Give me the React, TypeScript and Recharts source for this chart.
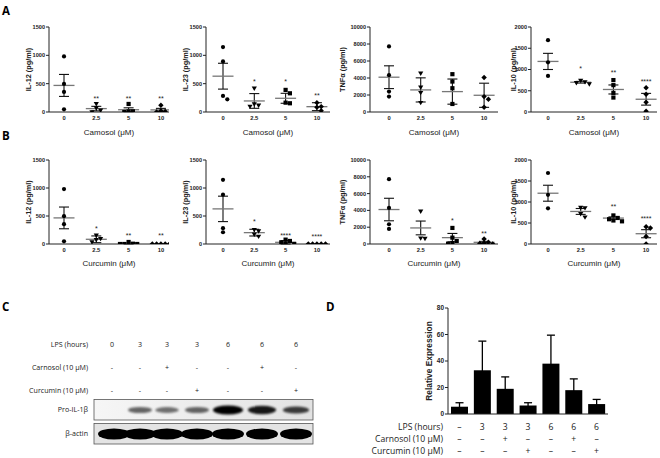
import React from 'react';
import { ScatterChart, Scatter, XAxis, YAxis, ErrorBar, BarChart, Bar } from 'recharts';

// ---------- DATA ----------
const doseLabels = ['0', '2.5', '5', '10'];
const groupShapes = ['circle', 'triangle', 'square', 'diamond'];

// Panel A: Carnosol
const camIL12Points = [[980, 496, 354, 47], [145, 70, 30, 0], [142, 12, 12, 0], [118, 20, 10, 0]];
const camIL12Mean = [469, 60, 40, 37];
const camIL12Sem = [194, 40, 34, 27];
const camIL12Sig = ['', '**', '**', '**'];
const camIL12SigY = [0, 271, 265, 260];

const camIL23Points = [[1146, 892, 283, 224], [420, 140, 120, 100], [390, 330, 165, 154], [165, 95, 83, 24]];
const camIL23Mean = [632, 195, 242, 94];
const camIL23Sem = [228, 130, 88, 70];
const camIL23Sig = ['', '*', '*', '**'];
const camIL23SigY = [0, 567, 567, 319];

const camTNFPoints = [[7717, 4331, 2400, 1811], [4567, 2913, 2283, 1102], [4449, 3583, 2795, 945], [4055, 1811, 1496, 551]];
const camTNFMean = [4094, 2598, 2400, 1968];
const camTNFSem = [1340, 1420, 1480, 1420];
const camTNFSig = ['', '', '', ''];
const camTNFSigY = [0, 0, 0, 0];

const camIL10Points = [[1690, 1170, 850], [740, 710, 690, 660], [751, 632, 450, 340], [569, 419, 230, 16]];
const camIL10Mean = [1190, 700, 530, 300];
const camIL10Sem = [190, 20, 106, 138];
const camIL10Sig = ['', '*', '**', '****'];
const camIL10SigY = [0, 1051, 972, 751];

// Panel B: Curcumin
const curIL12Points = [[980, 496, 354, 47], [155, 96, 78, 36], [0, 0, 0, 5, 36], [0, 0, 0, 0, 0]];
const curIL12Mean = [466, 84, 8, 0];
const curIL12Sem = [194, 60, 7, 0];
const curIL12Sig = ['', '*', '**', '**'];
const curIL12SigY = [0, 305, 173, 173];

const curIL23Points = [[1146, 880, 283, 210], [257, 233, 173, 137], [78, 54, 30, 6, 0], [0, 0, 0, 0, 0]];
const curIL23Mean = [627, 203, 30, 0];
const curIL23Sem = [227, 60, 30, 0];
const curIL23Sig = ['', '*', '****', '****'];
const curIL23SigY = [0, 424, 185, 155];

const curTNFPoints = [[7717, 4300, 2350, 1793], [3904, 700, 650], [1912, 757, 358, 120, 40], [600, 200, 120, 60, 0]];
const curTNFMean = [4104, 1912, 757, 200];
const curTNFSem = [1340, 820, 500, 110];
const curTNFSig = ['', '', '*', '**'];
const curTNFSigY = [0, 0, 3028, 1434];

const curIL10Points = [[1690, 1170, 850], [870, 860, 720, 640], [680, 620, 590, 560, 540], [410, 380, 180, 0]];
const curIL10Mean = [1209, 775, 617, 245];
const curIL10Sem = [190, 70, 28, 96];
const curIL10Sig = ['', '', '**', '****'];
const curIL10SigY = [0, 0, 933, 632];

const ticks1500 = [0, 500, 1000, 1500];
const ticks10000 = [0, 2000, 4000, 6000, 8000, 10000];
const ticks2000 = [0, 500, 1000, 1500, 2000];

// Panel C: western blot
const blotLps = ['0', '3', '3', '3', '6', '6', '6'];
const blotCarnosol = ['-', '-', '+', '-', '-', '+', '-'];
const blotCurcumin = ['-', '-', '-', '+', '-', '-', '+'];
const proIL1bIntensity = [0, 0.42, 0.36, 0.42, 1, 0.82, 0.62];
const actinIntensity = [1, 1, 1, 1, 1, 1, 1];

// Panel D: bar chart
const dLps = ['\u2013', '3', '3', '3', '6', '6', '6'];
const dCarnosol = ['\u2013', '\u2013', '+', '\u2013', '\u2013', '+', '\u2013'];
const dCurcumin = ['\u2013', '\u2013', '\u2013', '+', '\u2013', '\u2013', '+'];
const relExpression = [5.5, 33, 19, 6.5, 38, 18, 7.5];
const relExpressionSem = [3, 22, 9, 2, 21.5, 8.5, 3.5];
const dTicks = [0, 20, 40, 60, 80];

// ---------- LAYOUT ----------
const cols = [
  { left: 49, tick0: 64, sp: 32.3, right: 169, ylOff: 21 },
  { left: 206, tick0: 223, sp: 31.3, right: 330, ylOff: 21 },
  { left: 370, tick0: 389, sp: 31.7, right: 498, ylOff: 27.5 },
  { left: 531, tick0: 548, sp: 32.7, right: 657, ylOff: 18 },
];
const rows = [
  { top: 27, plotH: 85, xh: 23 },
  { top: 160, plotH: 84, xh: 22 },
];
const lanesX = [112, 140, 167, 197, 228, 262, 296];
const ARIAL = '"Liberation Sans", Arial, sans-serif';
const CAL = '"Open Sans", "Noto Sans", sans-serif';

function swarm(vals: number[], g: number, yMax: number, plotH: number, sp: number) {
  const step = 4.3;
  const minD = 4;
  const placed: { dx: number; py: number }[] = [];
  const out: { x: number; y: number }[] = [];
  const order = vals.map((_, i) => i).sort((a, b) => vals[b] - vals[a]);
  for (const i of order) {
    const py = (vals[i] / yMax) * plotH;
    let dx = 0;
    for (let t = 0; t < 30; t++) {
      const k = Math.ceil(t / 2) * (t % 2 === 1 ? 1 : -1);
      const cand = t === 0 ? 0 : k * step;
      const ok = placed.every((p) => Math.abs(p.py - py) >= minD || Math.abs(p.dx - cand) >= minD);
      if (ok) {
        dx = cand;
        break;
      }
    }
    placed.push({ dx, py });
    out.push({ x: g + dx / sp, y: vals[i] });
  }
  return out;
}

function Marker({ kind, cx, cy }: { kind: string; cx: number; cy: number }) {
  const r = 2.1;
  if (kind === 'circle') return <circle cx={cx} cy={cy} r={r} fill="#000" />;
  if (kind === 'square') return <rect x={cx - r} y={cy - r} width={2 * r} height={2 * r} fill="#000" />;
  if (kind === 'triangle')
    return <path d={`M${cx - 2.6},${cy - 1.7}L${cx + 2.6},${cy - 1.7}L${cx},${cy + 2.7}Z`} fill="#000" />;
  return <path d={`M${cx},${cy - 2.7}L${cx + 2.7},${cy}L${cx},${cy + 2.7}L${cx - 2.7},${cy}Z`} fill="#000" />;
}

type PanelProps = {
  col: number;
  row: number;
  yMax: number;
  yTicks: number[];
  yLabel: string;
  xTitle: string;
  points: number[][];
  means: number[];
  sems: number[];
  sig: string[];
  sigY: number[];
};

function ScatterPanel(p: PanelProps) {
  const c = cols[p.col];
  const r = rows[p.row];
  const YW = 50;
  const MT = 6;
  const MB = 5;
  const plotW = c.right - c.left;
  const width = YW + plotW + 2;
  const height = MT + r.plotH + r.xh + MB;
  const domain = [(c.left - c.tick0) / c.sp, (c.right - c.tick0) / c.sp];
  const meanData = p.means.map((m, i) => ({ x: i, y: m, err: p.sems[i] }));
  const sigData = p.sig
    .map((s, i) => ({ x: i, y: p.sigY[i], label: s }))
    .filter((d) => d.label !== '');
  return (
    <div style={{ position: 'absolute', left: c.left - YW, top: r.top - MT }}>
      <ScatterChart width={width} height={height} margin={{ top: MT, right: 2, bottom: MB, left: 0 }}>
        <XAxis
          type="number"
          dataKey="x"
          domain={domain}
          ticks={[0, 1, 2, 3]}
          interval={0}
          allowDataOverflow
          tickFormatter={(v: number) => doseLabels[v]}
          tickLine={false}
          tickSize={3}
          tickMargin={1}
          height={r.xh}
          axisLine={{ stroke: '#222', strokeWidth: 1 }}
          tick={{ fontSize: 5.8, fontWeight: 'bold', fill: '#222' }}
          label={{ value: p.xTitle, position: 'insideBottom', offset: 0, style: { fontSize: 8, fill: '#222' } }}
        />
        <YAxis
          type="number"
          dataKey="y"
          domain={[0, p.yMax]}
          ticks={p.yTicks}
          interval={0}
          allowDataOverflow
          width={YW}
          tickSize={3}
          tickMargin={1}
          axisLine={{ stroke: '#222', strokeWidth: 1 }}
          tickLine={{ stroke: '#222', strokeWidth: 1 }}
          tick={{ fontSize: 5.6, fontWeight: 'bold', fill: '#222' }}
          label={{
            value: p.yLabel,
            angle: -90,
            position: 'insideLeft',
            offset: YW - c.ylOff,
            style: { textAnchor: 'middle', fontSize: 7.3, fontWeight: 'bold', fill: '#222' },
          }}
        />
        <Scatter
          data={meanData}
          isAnimationActive={false}
          shape={(s: any) => (
            <line x1={s.cx - 10.5} x2={s.cx + 10.5} y1={s.cy} y2={s.cy} stroke="#777" strokeWidth={1.3} />
          )}
        >
          <ErrorBar dataKey="err" width={5} stroke="#111" strokeWidth={1.1} direction="y" />
        </Scatter>
        {p.points.map((vals, g) => (
          <Scatter
            key={g}
            data={swarm(vals, g, p.yMax, r.plotH, c.sp)}
            isAnimationActive={false}
            shape={(s: any) => <Marker kind={groupShapes[g]} cx={s.cx} cy={s.cy} />}
          />
        ))}
        <Scatter
          data={sigData}
          isAnimationActive={false}
          shape={(s: any) => (
            <text x={s.cx} y={s.cy + 4} textAnchor="middle" fontSize={7} fill="#222">
              {s.payload.label}
            </text>
          )}
        />
      </ScatterChart>
    </div>
  );
}

const DTick = (props: any) => {
  const { x, y, payload } = props;
  const i = payload.value as number;
  const st = { fontSize: 8.6, fontFamily: CAL, fill: '#222' } as any;
  return (
    <g>
      <text x={x} y={y + 16} textAnchor="middle" style={st}>{dLps[i]}</text>
      <text x={x} y={y + 28} textAnchor="middle" style={st}>{dCarnosol[i]}</text>
      <text x={x} y={y + 40} textAnchor="middle" style={st}>{dCurcumin[i]}</text>
    </g>
  );
};

function PanelD() {
  const data = relExpression.map((v, i) => ({ k: i, v, e: relExpressionSem[i] }));
  return (
    <div style={{ position: 'absolute', left: 448 - 40, top: 308 - 6 }}>
      <BarChart width={202} height={156} data={data} margin={{ top: 6, right: 2, bottom: 0, left: 0 }}>
        <XAxis
          dataKey="k"
          interval={0}
          tickLine={false}
          tickSize={0}
          tickMargin={0}
          height={44}
          axisLine={{ stroke: '#222', strokeWidth: 1 }}
          tick={<DTick />}
        />
        <YAxis
          domain={[0, 80]}
          ticks={dTicks}
          interval={0}
          width={40}
          tickSize={3}
          tickMargin={1}
          axisLine={{ stroke: '#222', strokeWidth: 1 }}
          tickLine={{ stroke: '#222', strokeWidth: 1 }}
          tick={{ fontSize: 6.5, fontWeight: 'bold', fill: '#222' }}
          label={{
            value: 'Relative Expression',
            angle: -90,
            position: 'insideLeft',
            offset: 21,
            style: { textAnchor: 'middle', fontSize: 8.4, fontWeight: 'bold', fill: '#222' },
          }}
        />
        <Bar dataKey="v" fill="#000" barSize={17} isAnimationActive={false}>
          <ErrorBar dataKey="e" width={4} stroke="#000" strokeWidth={1.3} direction="y" />
        </Bar>
      </BarChart>
    </div>
  );
}

function Overlay() {
  const txt = { fontFamily: CAL, fontSize: 7.1, fill: '#222' } as any;
  const dtxt = { fontFamily: CAL, fontSize: 8.6, fill: '#222' } as any;
  const letter = { fontFamily: CAL, fontSize: 11.5, fontWeight: 'bold', fill: '#000' } as any;
  return (
    <svg width={660} height={458} style={{ position: 'absolute', left: 0, top: 0 }}>
      <defs>
        <filter id="blur1" x="-30%" y="-60%" width="160%" height="220%">
          <feGaussianBlur stdDeviation="1.1" />
        </filter>
        <filter id="blur2" x="-30%" y="-60%" width="160%" height="220%">
          <feGaussianBlur stdDeviation="0.7" />
        </filter>
        <linearGradient id="bg1" x1="0" x2="1" y1="0" y2="0">
          <stop offset="0" stopColor="#f6f6f6" />
          <stop offset="1" stopColor="#e2e2e2" />
        </linearGradient>
      </defs>
      <text x={2} y={15} style={letter}>A</text>
      <text x={2} y={140} style={letter}>B</text>
      <text x={2} y={311} style={letter}>C</text>
      <text x={326} y={311} style={letter}>D</text>

      {/* Panel C */}
      <text x={88} y={346.5} textAnchor="end" style={txt}>LPS (hours)</text>
      <text x={88} y={369.5} textAnchor="end" style={txt}>Carnosol (10 μM)</text>
      <text x={88} y={392.5} textAnchor="end" style={txt}>Curcumin (10 μM)</text>
      <text x={88} y={411.5} textAnchor="end" style={txt}>Pro-IL-1β</text>
      <text x={88} y={435.5} textAnchor="end" style={txt}>β-actin</text>
      {lanesX.map((x, i) => (
        <g key={i}>
          <text x={x} y={346.5} textAnchor="middle" style={txt}>{blotLps[i]}</text>
          <text x={x} y={369.5} textAnchor="middle" style={txt}>{blotCarnosol[i]}</text>
          <text x={x} y={392.5} textAnchor="middle" style={txt}>{blotCurcumin[i]}</text>
        </g>
      ))}
      <rect x={94} y={399.5} width={219} height={20.5} fill="url(#bg1)" stroke="#555" strokeWidth={0.8} />
      {proIL1bIntensity.map((v, i) =>
        v > 0 ? (
          <ellipse
            key={i}
            cx={lanesX[i]}
            cy={410}
            rx={10 + 5 * v}
            ry={2 + 2.6 * v}
            fill="#000"
            opacity={Math.min(1, 0.25 + 0.8 * v)}
            filter="url(#blur1)"
          />
        ) : null
      )}
      <rect x={94} y={423.5} width={219} height={20.5} fill="#e4e4e4" stroke="#555" strokeWidth={0.8} />
      {actinIntensity.map((v, i) => (
        <ellipse
          key={i}
          cx={lanesX[i] + (i === 0 ? 2 : 0)}
          cy={434}
          rx={16}
          ry={5.6}
          fill="#000"
          opacity={v}
          filter="url(#blur2)"
        />
      ))}

      {/* Panel D row labels */}
      <text x={443} y={430} textAnchor="end" style={dtxt}>LPS (hours)</text>
      <text x={443} y={442} textAnchor="end" style={dtxt}>Carnosol (10 μM)</text>
      <text x={443} y={454} textAnchor="end" style={dtxt}>Curcumin (10 μM)</text>
    </svg>
  );
}

export default function App() {
  return (
    <div
      style={{
        position: 'absolute',
        left: 0,
        top: 0,
        width: 660,
        height: 458,
        background: '#fff',
        overflow: 'hidden',
        fontFamily: ARIAL,
      }}
    >
      <Overlay />
      <ScatterPanel col={0} row={0} yMax={1500} yTicks={ticks1500} yLabel="IL-12 (pg/ml)" xTitle="Camosol (μM)"
        points={camIL12Points} means={camIL12Mean} sems={camIL12Sem} sig={camIL12Sig} sigY={camIL12SigY} />
      <ScatterPanel col={1} row={0} yMax={1500} yTicks={ticks1500} yLabel="IL-23 (pg/ml)" xTitle="Camosol (μM)"
        points={camIL23Points} means={camIL23Mean} sems={camIL23Sem} sig={camIL23Sig} sigY={camIL23SigY} />
      <ScatterPanel col={2} row={0} yMax={10000} yTicks={ticks10000} yLabel="TNFα (pg/ml)" xTitle="Camosol (μM)"
        points={camTNFPoints} means={camTNFMean} sems={camTNFSem} sig={camTNFSig} sigY={camTNFSigY} />
      <ScatterPanel col={3} row={0} yMax={2000} yTicks={ticks2000} yLabel="IL-10 (pg/ml)" xTitle="Camosol (μM)"
        points={camIL10Points} means={camIL10Mean} sems={camIL10Sem} sig={camIL10Sig} sigY={camIL10SigY} />
      <ScatterPanel col={0} row={1} yMax={1500} yTicks={ticks1500} yLabel="IL-12 (pg/ml)" xTitle="Curcumin (μM)"
        points={curIL12Points} means={curIL12Mean} sems={curIL12Sem} sig={curIL12Sig} sigY={curIL12SigY} />
      <ScatterPanel col={1} row={1} yMax={1500} yTicks={ticks1500} yLabel="IL-23 (pg/ml)" xTitle="Curcumin (μM)"
        points={curIL23Points} means={curIL23Mean} sems={curIL23Sem} sig={curIL23Sig} sigY={curIL23SigY} />
      <ScatterPanel col={2} row={1} yMax={10000} yTicks={ticks10000} yLabel="TNFα (pg/ml)" xTitle="Curcumin (μM)"
        points={curTNFPoints} means={curTNFMean} sems={curTNFSem} sig={curTNFSig} sigY={curTNFSigY} />
      <ScatterPanel col={3} row={1} yMax={2000} yTicks={ticks2000} yLabel="IL-10 (pg/ml)" xTitle="Curcumin (μM)"
        points={curIL10Points} means={curIL10Mean} sems={curIL10Sem} sig={curIL10Sig} sigY={curIL10SigY} />
      <PanelD />
    </div>
  );
}
